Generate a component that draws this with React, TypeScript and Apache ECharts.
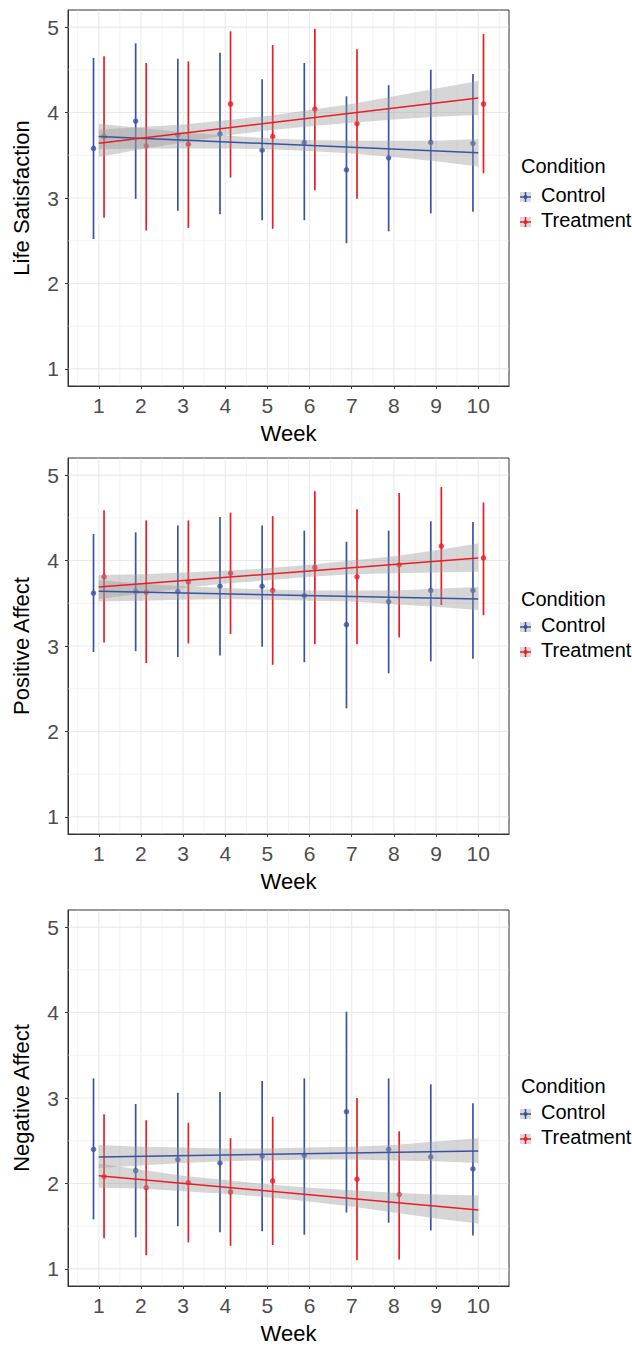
import React, { useEffect, useRef } from "react";
import * as echarts from "echarts";

// ---------- data ----------
const weeks = [1, 2, 3, 4, 5, 6, 7, 8, 9, 10];
const yTicks = [1, 2, 3, 4, 5];
const xMinor = [0.5, 1.5, 2.5, 3.5, 4.5, 5.5, 6.5, 7.5, 8.5, 9.5, 10.5];
const yMinor = [1.5, 2.5, 3.5, 4.5];
const fitWeeks = [1, 10];

// Life Satisfaction
const lsCtrlMean = [3.58, 3.9, 3.74, 3.75, 3.56, 3.65, 3.33, 3.47, 3.65, 3.64];
const lsCtrlLow = [2.52, 2.99, 2.85, 2.81, 2.74, 2.74, 2.47, 2.61, 2.82, 2.84];
const lsCtrlHigh = [4.64, 4.81, 4.63, 4.7, 4.39, 4.58, 4.19, 4.32, 4.5, 4.45];
const lsTrtWeeks = [1, 2, 3, 4, 5, 6, 7, 10];
const lsTrtMean = [3.72, 3.61, 3.63, 4.1, 3.72, 4.04, 3.87, 4.1];
const lsTrtLow = [2.77, 2.62, 2.65, 3.24, 2.64, 3.09, 2.99, 3.29];
const lsTrtHigh = [4.66, 4.58, 4.6, 4.95, 4.79, 4.98, 4.74, 4.92];
const lsCtrlFit = [3.72, 3.53];
const lsTrtFit = [3.64, 4.17];
const lsCtrlBandHi = [3.87, 3.82, 3.77, 3.73, 3.7, 3.68, 3.67, 3.67, 3.67, 3.69];
const lsCtrlBandLo = [3.57, 3.58, 3.58, 3.58, 3.57, 3.55, 3.52, 3.48, 3.43, 3.37];
const lsTrtBandHi = [3.8, 3.83, 3.86, 3.91, 3.96, 4.03, 4.1, 4.19, 4.28, 4.37];
const lsTrtBandLo = [3.48, 3.57, 3.65, 3.73, 3.79, 3.84, 3.88, 3.92, 3.95, 3.97];

// Positive Affect
const paCtrlMean = [3.62, 3.64, 3.64, 3.7, 3.7, 3.59, 3.25, 3.52, 3.65, 3.65];
const paCtrlLow = [2.93, 2.94, 2.87, 2.89, 2.99, 2.81, 2.27, 2.68, 2.82, 2.85];
const paCtrlHigh = [4.31, 4.33, 4.41, 4.51, 4.41, 4.35, 4.22, 4.35, 4.46, 4.45];
const paTrtWeeks = [1, 2, 3, 4, 5, 6, 7, 8, 9, 10];
const paTrtMean = [3.81, 3.63, 3.75, 3.85, 3.65, 3.92, 3.81, 3.95, 4.17, 4.03];
const paTrtLow = [3.04, 2.8, 3.03, 3.14, 2.78, 3.02, 3.02, 3.1, 3.48, 3.36];
const paTrtHigh = [4.59, 4.47, 4.47, 4.56, 4.52, 4.81, 4.6, 4.79, 4.86, 4.68];
const paCtrlFit = [3.64, 3.55];
const paTrtFit = [3.69, 4.03];
const paCtrlBandHi = [3.77, 3.73, 3.7, 3.68, 3.66, 3.65, 3.65, 3.65, 3.67, 3.69];
const paCtrlBandLo = [3.52, 3.53, 3.54, 3.55, 3.54, 3.53, 3.52, 3.49, 3.46, 3.42];
const paTrtBandHi = [3.83, 3.84, 3.86, 3.88, 3.91, 3.95, 4.0, 4.05, 4.12, 4.2];
const paTrtBandLo = [3.55, 3.61, 3.68, 3.73, 3.77, 3.81, 3.84, 3.85, 3.86, 3.87];

// Negative Affect
const naCtrlMean = [2.4, 2.15, 2.28, 2.24, 2.32, 2.33, 2.84, 2.4, 2.31, 2.17];
const naCtrlLow = [1.58, 1.37, 1.5, 1.43, 1.44, 1.4, 1.66, 1.54, 1.45, 1.39];
const naCtrlHigh = [3.23, 2.93, 3.06, 3.07, 3.2, 3.23, 4.01, 3.23, 3.16, 2.94];
const naTrtWeeks = [1, 2, 3, 4, 5, 7, 8];
const naTrtMean = [2.08, 1.95, 2.01, 1.9, 2.03, 2.05, 1.87];
const naTrtLow = [1.36, 1.16, 1.31, 1.27, 1.28, 1.1, 1.11];
const naTrtHigh = [2.81, 2.74, 2.71, 2.53, 2.78, 3.0, 2.61];
const naCtrlFit = [2.31, 2.38];
const naTrtFit = [2.09, 1.69];
const naCtrlBandHi = [2.45, 2.43, 2.42, 2.41, 2.41, 2.42, 2.43, 2.45, 2.49, 2.53];
const naCtrlBandLo = [2.18, 2.21, 2.24, 2.26, 2.27, 2.28, 2.28, 2.27, 2.26, 2.24];
const naTrtBandHi = [2.23, 2.16, 2.09, 2.04, 1.99, 1.95, 1.92, 1.89, 1.87, 1.86];
const naTrtBandLo = [1.95, 1.94, 1.91, 1.88, 1.84, 1.79, 1.73, 1.66, 1.59, 1.53];

const legendTitle = "Condition";
const groupNames = ["Control", "Treatment"];

// ---------- styling ----------
const FONT = "'Liberation Sans', Arial, Helvetica, sans-serif";
const BLUE = "#3953a4";
const RED = "#ed1c24";
const BAND = "rgba(153,153,153,0.4)";
const DODGE = 0.125;
const X_MIN = 0.27;
const X_MAX = 10.73;
const Y_MIN = 0.8;
const Y_MAX = 5.2;

const panels = [
  {
    title: "Life Satisfaction", top: 10, legendY: [168, 197, 222],
    ctrl: { w: weeks, m: lsCtrlMean, lo: lsCtrlLow, hi: lsCtrlHigh, fit: lsCtrlFit, bHi: lsCtrlBandHi, bLo: lsCtrlBandLo },
    trt: { w: lsTrtWeeks, m: lsTrtMean, lo: lsTrtLow, hi: lsTrtHigh, fit: lsTrtFit, bHi: lsTrtBandHi, bLo: lsTrtBandLo },
  },
  {
    title: "Positive Affect", top: 458, legendY: [601, 627, 652],
    ctrl: { w: weeks, m: paCtrlMean, lo: paCtrlLow, hi: paCtrlHigh, fit: paCtrlFit, bHi: paCtrlBandHi, bLo: paCtrlBandLo },
    trt: { w: paTrtWeeks, m: paTrtMean, lo: paTrtLow, hi: paTrtHigh, fit: paTrtFit, bHi: paTrtBandHi, bLo: paTrtBandLo },
  },
  {
    title: "Negative Affect", top: 910, legendY: [1088, 1114, 1139],
    ctrl: { w: weeks, m: naCtrlMean, lo: naCtrlLow, hi: naCtrlHigh, fit: naCtrlFit, bHi: naCtrlBandHi, bLo: naCtrlBandLo },
    trt: { w: naTrtWeeks, m: naTrtMean, lo: naTrtLow, hi: naTrtHigh, fit: naTrtFit, bHi: naTrtBandHi, bLo: naTrtBandLo },
  },
];

function buildOption() {
  const grid: any[] = [];
  const xAxis: any[] = [];
  const yAxis: any[] = [];
  const series: any[] = [];
  const graphic: any[] = [];

  panels.forEach((p, i) => {
    grid.push({
      left: 68, top: p.top, width: 441, height: 376,
      show: true, borderColor: "#333333", borderWidth: 1, backgroundColor: "#ffffff",
    });
    xAxis.push({
      gridIndex: i, type: "value", min: X_MIN, max: X_MAX,
      name: "Week", nameLocation: "middle", nameGap: 36,
      nameTextStyle: { fontSize: 22, color: "#000", fontFamily: FONT },
      axisLine: { show: true, lineStyle: { color: "#333333", width: 1 } },
      axisTick: { show: true, customValues: weeks, length: 3, lineStyle: { color: "#333333" } },
      axisLabel: { customValues: weeks, fontSize: 21, color: "#4d4d4d", margin: 9, fontFamily: FONT },
      splitLine: { show: false },
    });
    yAxis.push({
      gridIndex: i, type: "value", min: Y_MIN, max: Y_MAX,
      name: p.title, nameLocation: "middle", nameGap: 36,
      nameTextStyle: { fontSize: 22, color: "#000", fontFamily: FONT },
      axisLine: { show: true, lineStyle: { color: "#333333", width: 1 } },
      axisTick: { show: true, customValues: yTicks, length: 3, lineStyle: { color: "#333333" } },
      axisLabel: { customValues: yTicks, fontSize: 21, color: "#4d4d4d", margin: 9, fontFamily: FONT },
      splitLine: { show: false },
    });

    // grid lines
    const gridData: any[] = [];
    xMinor.forEach((v) => gridData.push([v, 0]));
    weeks.forEach((v) => gridData.push([v, 1]));
    yMinor.forEach((v) => gridData.push([v, 2]));
    yTicks.forEach((v) => gridData.push([v, 3]));
    series.push({
      type: "custom", xAxisIndex: i, yAxisIndex: i, z: 1, silent: true,
      data: gridData,
      encode: { x: 0 },
      renderItem: (params: any, api: any) => {
        const cs = params.coordSys;
        const v = api.value(0);
        const kind = api.value(1);
        const major = kind === 1 || kind === 3;
        const style = { stroke: major ? "#e9e9e9" : "#f1f1f1", lineWidth: major ? 1.1 : 0.9 };
        if (kind <= 1) {
          const x = api.coord([v, Y_MIN])[0];
          return { type: "line", shape: { x1: x, y1: cs.y + 0.5, x2: x, y2: cs.y + cs.height - 0.5 }, style };
        }
        const y = api.coord([X_MIN, v])[1];
        return { type: "line", shape: { x1: cs.x + 0.5, y1: y, x2: cs.x + cs.width - 0.5, y2: y }, style };
      },
    });

    const groups = [
      { g: p.ctrl, color: BLUE, off: -DODGE },
      { g: p.trt, color: RED, off: DODGE },
    ];
    groups.forEach(({ g, color, off }) => {
      // error bars
      series.push({
        type: "custom", xAxisIndex: i, yAxisIndex: i, z: 2, silent: true,
        data: g.w.map((w, k) => [w + off, g.lo[k], g.hi[k]]),
        encode: { x: 0, y: [1, 2] },
        renderItem: (_params: any, api: any) => {
          const a = api.coord([api.value(0), api.value(1)]);
          const b = api.coord([api.value(0), api.value(2)]);
          return { type: "line", shape: { x1: a[0], y1: a[1], x2: b[0], y2: b[1] }, style: { stroke: color, lineWidth: 1.7 } };
        },
      });
      // points
      series.push({
        type: "scatter", xAxisIndex: i, yAxisIndex: i, z: 3, silent: true,
        symbol: "circle", symbolSize: 5.5,
        itemStyle: { color },
        data: g.w.map((w, k) => [w + off, g.m[k]]),
      });
    });

    groups.forEach(({ g }) => {
      // confidence band
      series.push({
        type: "custom", xAxisIndex: i, yAxisIndex: i, z: 4, silent: true,
        data: [[weeks[0], g.bHi[0]]],
        encode: { x: 0, y: 1 },
        renderItem: (_params: any, api: any) => {
          const pts: number[][] = [];
          weeks.forEach((w, k) => pts.push(api.coord([w, g.bHi[k]])));
          for (let k = weeks.length - 1; k >= 0; k--) pts.push(api.coord([weeks[k], g.bLo[k]]));
          return { type: "polygon", shape: { points: pts, smooth: 0 }, style: { fill: BAND } };
        },
      });
    });
    groups.forEach(({ g, color }) => {
      series.push({
        type: "line", xAxisIndex: i, yAxisIndex: i, z: 5, silent: true,
        showSymbol: false, symbol: "none",
        lineStyle: { color, width: 1.5 },
        data: fitWeeks.map((w, k) => [w, g.fit[k]]),
      });
    });

    // legend
    const [ty, cy, ry] = p.legendY;
    graphic.push({
      type: "text", left: 521, top: ty - 12,
      style: { text: legendTitle, fontSize: 20, fontFamily: FONT, fill: "#000" },
    });
    [
      { y: cy, color: BLUE, label: groupNames[0] },
      { y: ry, color: RED, label: groupNames[1] },
    ].forEach((it) => {
      graphic.push({ type: "rect", shape: { x: 520, y: it.y - 5, width: 11, height: 10 }, style: { fill: "#d9d9d9" } });
      graphic.push({ type: "line", shape: { x1: 520, y1: it.y, x2: 531, y2: it.y }, style: { stroke: it.color, lineWidth: 1.5 } });
      graphic.push({ type: "line", shape: { x1: 525.5, y1: it.y - 5, x2: 525.5, y2: it.y + 5 }, style: { stroke: it.color, lineWidth: 1.5 } });
      graphic.push({ type: "circle", shape: { cx: 525.5, cy: it.y, r: 2 }, style: { fill: it.color } });
      graphic.push({
        type: "text", left: 541, top: it.y - 12,
        style: { text: it.label, fontSize: 20, fontFamily: FONT, fill: "#000" },
      });
    });
  });

  return {
    animation: false,
    backgroundColor: "#ffffff",
    textStyle: { fontFamily: FONT },
    grid, xAxis, yAxis, series, graphic,
  };
}

export default function App() {
  const ref = useRef<HTMLDivElement>(null);
  useEffect(() => {
    if (!ref.current) return;
    const chart = echarts.init(ref.current, undefined, { renderer: "svg" });
    chart.setOption(buildOption() as any);
    return () => chart.dispose();
  }, []);
  return (
    <div
      ref={ref}
      style={{ position: "fixed", left: 0, top: 0, width: 632, height: 1348, background: "#fff" }}
    />
  );
}
